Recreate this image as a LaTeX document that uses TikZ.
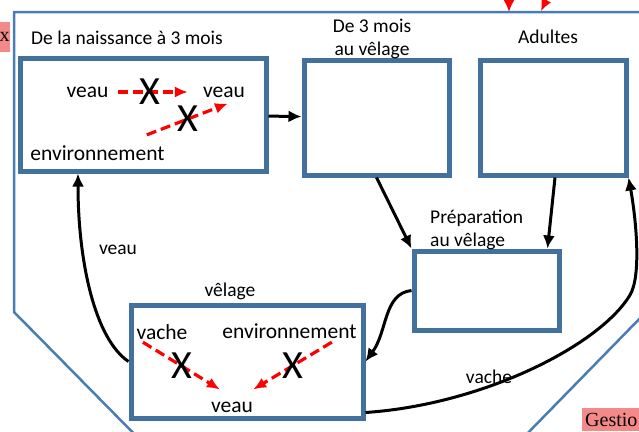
\documentclass[tikz,border=0pt]{standalone}
\usepackage{fontspec}
\setmainfont{Carlito}
\newfontfamily\tagfont{Liberation Serif}
\usetikzlibrary{arrows.meta}
\definecolor{HerdBlue}{HTML}{41719C}
\definecolor{FenceBlue}{HTML}{4A7DB4}
\definecolor{CutRed}{HTML}{FF0000}
\definecolor{TagPink}{HTML}{F4898A}

\begin{document}
\begin{tikzpicture}[
            x=1pt,y=-1pt,
            >={Latex[length=13pt,width=12pt]},
            stage/.style={draw=HerdBlue,line width=5pt},
            stagelabel/.style={font=\fontsize{19.5}{23}\selectfont,inner sep=1pt},
            who/.style={font=\fontsize{21.5}{25}\selectfont,inner sep=6pt},
            xmark/.style={font=\fontsize{40}{40}\selectfont,inner sep=0pt},
            flow/.style={->,line width=3pt},
            blocked/.style={-{Latex[length=13pt,width=11pt]},draw=CutRed,line width=3.2pt,
              dash pattern=on 10pt off 5pt},
            pinktag/.style={fill=TagPink,font=\tagfont\fontsize{20}{22}\selectfont,
              inner xsep=3pt,inner ysep=2pt,minimum height=26pt}
          ]
          \useasboundingbox (0,0) rectangle (639,431);
          \clip (0,0) rectangle (639,431);
          % outer frame, cut by the page
          \draw[FenceBlue,line width=2.5pt] (150,450) -- (14,312) -- (14,12) -- (660,12);
          \draw[FenceBlue,line width=2.5pt] (650,308) -- (520,441);
          \node[pinktag,anchor=west,inner xsep=0pt,minimum height=30pt] (tagleft) at (-0.5,37) {x};
          \node[pinktag,anchor=north west,text width=64pt,align=left,minimum height=23pt] (tagright) at (582,408) {Gestio};
          \draw[draw=CutRed,line width=2pt,-{Latex[length=12pt,width=11pt]}] (509,-25) -- (509,12);
          \draw[draw=CutRed,line width=2pt,-{Latex[length=12pt,width=11pt]}] (558,-25) -- (541,11);
          % stages
          \node[stage,minimum width=246pt,minimum height=113pt] (birth) at (143,114.5) {};
          \node[stage,minimum width=145pt,minimum height=115pt] (growth) at (376.5,117.5) {};
          \node[stage,minimum width=146pt,minimum height=115pt] (adults) at (553,117.5) {};
          \node[stage,minimum width=145pt,minimum height=79pt] (prep) at (486.5,290.5) {};
          \node[stage,minimum width=232pt,minimum height=113pt] (calving) at (247,361.5) {};
          \node[stagelabel,anchor=west] (birthname) at (30,38) {De la naissance à 3 mois};
          \node[stagelabel,align=center] (growthname) at (372,38.5) {De 3 mois\\au vêlage};
          \node[stagelabel] (adultsname) at (548,37) {Adultes};
          \node[stagelabel,align=left,anchor=west] (prepname) at (429,229.5) {Préparation\\au vêlage};
          \node[stagelabel] (calvingname) at (230,291) {vêlage};
          % who infects whom
          \node[who] (calfA) at (87.5,92) {veau};
          \node[who] (calfB) at (224,92) {veau};
          \node[who] (envA) at (97.5,153) {environnement};
          \node[who] (cow) at (162,332) {vache};
          \node[who] (envB) at (289.5,331) {environnement};
          \node[who] (calfC) at (232,407) {veau};
          \draw[blocked] ([xshift=3.5pt]calfA.east) -- ([xshift=-9pt]calfB.west)
            node[xmark,pos=0.45] (xa) {X};
          \draw[blocked] ([xshift=-24pt,yshift=4.5pt]envA.north east) -- ([xshift=4pt]calfB.south)
            node[xmark,midway] (xb) {X};
          \draw[blocked] ([xshift=12.5pt,yshift=3.5pt]cow.south west) -- ([xshift=15pt,yshift=6pt]calfC.north west)
            node[xmark,midway] (xc) {X};
          \draw[blocked] ([xshift=-31pt,yshift=2.5pt]envB.south east) -- ([xshift=-6pt,yshift=6pt]calfC.north east)
            node[xmark,midway] (xd) {X};
          % moves between stages
          \draw[flow] (birth) -- (growth);
          \draw[flow] (growth.south) -- (prep.north west);
          \draw[flow] ([xshift=2pt]adults.south) -- ([xshift=-14pt]prep.north east);
          \draw[flow] (prep.west) .. controls +(-28,3) and +(22,-30) .. (calving.east);
          \draw[flow] ([yshift=8pt]calving.south east) .. controls +(118,-8) and +(-30,50) .. (630,295)
            .. controls +(12,-20) and +(7,38) .. (adults.south east);
          \draw[flow] (calving.west) .. controls +(-34,-23) and +(0,87) .. ([xshift=-65pt]birth.south);
          \node[stagelabel] (calflabel) at (118,250) {veau};
          \node[stagelabel] (cowlabel) at (489,377) {vache};
        \end{tikzpicture}
\end{document}
